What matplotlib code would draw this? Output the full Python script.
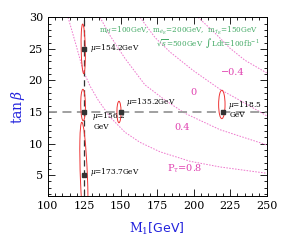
import matplotlib
matplotlib.use('Agg')
import matplotlib.pyplot as plt
from matplotlib.patches import Ellipse
from matplotlib.ticker import MultipleLocator

plt.rcParams['font.family'] = ['DejaVu Serif']
plt.rcParams['mathtext.fontset'] = 'dejavuserif'

# P_tau contours (M1 [GeV], tan beta)
m1_p08 = [113.9, 119.4, 124.2, 129.0, 134.5, 142.7, 152.9, 163.2, 176.9, 197.5, 218.0, 250.0]
tb_p08 = [30.0, 25.6, 21.6, 19.1, 16.9, 14.2, 11.8, 10.2, 8.7, 7.2, 6.3, 5.3]
m1_p04 = [135.8, 142.7, 152.9, 166.6, 180.3, 194.0, 218.0, 250.0]
tb_p04 = [30.0, 27.1, 23.5, 19.3, 16.9, 14.8, 12.2, 9.8]
m1_p00 = [163.2, 173.5, 183.8, 199.5, 218.0, 235.1, 250.0]
tb_p00 = [30.0, 26.8, 24.5, 21.6, 18.6, 16.4, 14.4]
m1_pm04 = [203.0, 214.6, 224.9, 235.1, 250.0]
tb_pm04 = [30.0, 27.5, 25.1, 23.2, 21.2]

# input points
pt_m1 = [125, 125, 125, 150, 220]
pt_tb = [25, 15, 5, 15, 15]

# error contours: centre m1, centre tb, width (GeV), height, tilt
ell_m1 = [124.3, 124.2, 124.8, 148.8, 219.3]
ell_tb = [25.0, 16.1, 4.5, 15.0, 16.2]
ell_w = [2.8, 3.2, 4.8, 2.8, 4.4]
ell_h = [7.9, 5.0, 18.0, 3.4, 4.5]
ell_ang = [6, 4, 10, 0, 0]

pink = '#ee77cc'
pinktxt = '#e040b0'
blue = '#2222dd'

fig = plt.figure(figsize=(2.93, 2.47), dpi=100)
ax = fig.add_axes([0.163, 0.2065, 0.747, 0.7235])

ls_dot = (0, (1.6, 1.4))
for xs, ys in [(m1_p08, tb_p08), (m1_p04, tb_p04), (m1_p00, tb_p00), (m1_pm04, tb_pm04)]:
    ax.plot(xs, ys, color=pink, lw=0.7, ls=ls_dot)

ax.axhline(15, color='#999999', lw=1.3, ls=(0, (5, 3)), zorder=2)
ax.axvline(125, color='#333333', lw=0.9, ls=(0, (5, 3)), zorder=2)

for cx, cy, w, h, a in zip(ell_m1, ell_tb, ell_w, ell_h, ell_ang):
    ax.add_patch(Ellipse((cx, cy), w, h, angle=a, fill=False,
                         edgecolor='#ee3333', lw=0.7, zorder=3))

ax.plot(pt_m1, pt_tb, 's', color='#333333', ms=2.2, zorder=4)

fs = 5.3
ax.text(129.0, 25.1, r'$\mu$=154.2GeV', fontsize=fs, va='center')
ax.text(130.0, 14.3, r'$\mu$=156.2', fontsize=fs, va='center')
ax.text(137.0, 12.7, 'GeV', fontsize=fs, va='center', ha='center')
ax.text(129.0, 5.5, r'$\mu$=173.7GeV', fontsize=fs, va='center')
ax.text(153.5, 16.6, r'$\mu$=135.2GeV', fontsize=fs, va='center')
ax.text(223.5, 16.1, r'$\mu$=118.5', fontsize=fs, va='center')
ax.text(230.3, 14.5, 'GeV', fontsize=fs, va='center', ha='center')

ax.text(227, 21.3, '\u22120.4', fontsize=7, color=pinktxt, ha='center', va='center')
ax.text(199.5, 18.1, '0', fontsize=7, color=pinktxt, ha='center', va='center')
ax.text(192, 12.5, '0.4', fontsize=7, color=pinktxt, ha='center', va='center')
ax.text(194, 6.0, r'P$_\tau$=0.8', fontsize=7, color=pinktxt, ha='center', va='center')

green = '#44aa66'
ax.text(244, 27.8, r'm$_{\tilde{H}}$=100GeV,  m$_{\tilde{e}_R}$=200GeV,  m$_{\tilde{\tau}_R}$=150GeV',
        fontsize=5.2, color=green, ha='right', va='center')
ax.text(245.5, 25.9, r'$\sqrt{s}$=500GeV  $\int$Ldt=100fb$^{-1}$',
        fontsize=5.2, color=green, ha='right', va='center')

ax.set_xlim(100, 250)
ax.set_ylim(1.7, 30)
ax.xaxis.set_major_locator(MultipleLocator(25))
ax.xaxis.set_minor_locator(MultipleLocator(5))
ax.yaxis.set_major_locator(MultipleLocator(5))
ax.yaxis.set_minor_locator(MultipleLocator(1))
ax.tick_params(which='both', direction='in', top=True, right=True, labelsize=8, width=0.6)
ax.tick_params(which='major', length=5)
ax.tick_params(which='minor', length=2.5)
for s in ax.spines.values():
    s.set_linewidth(0.7)

ax.set_xlabel(r'$\mathrm{M}_1$[GeV]', color=blue, fontsize=9, family='DejaVu Sans', labelpad=7)
ax.set_ylabel(r'$\tan\beta$', color=blue, fontsize=10, labelpad=1)

fig.savefig('out.png', dpi=100)
